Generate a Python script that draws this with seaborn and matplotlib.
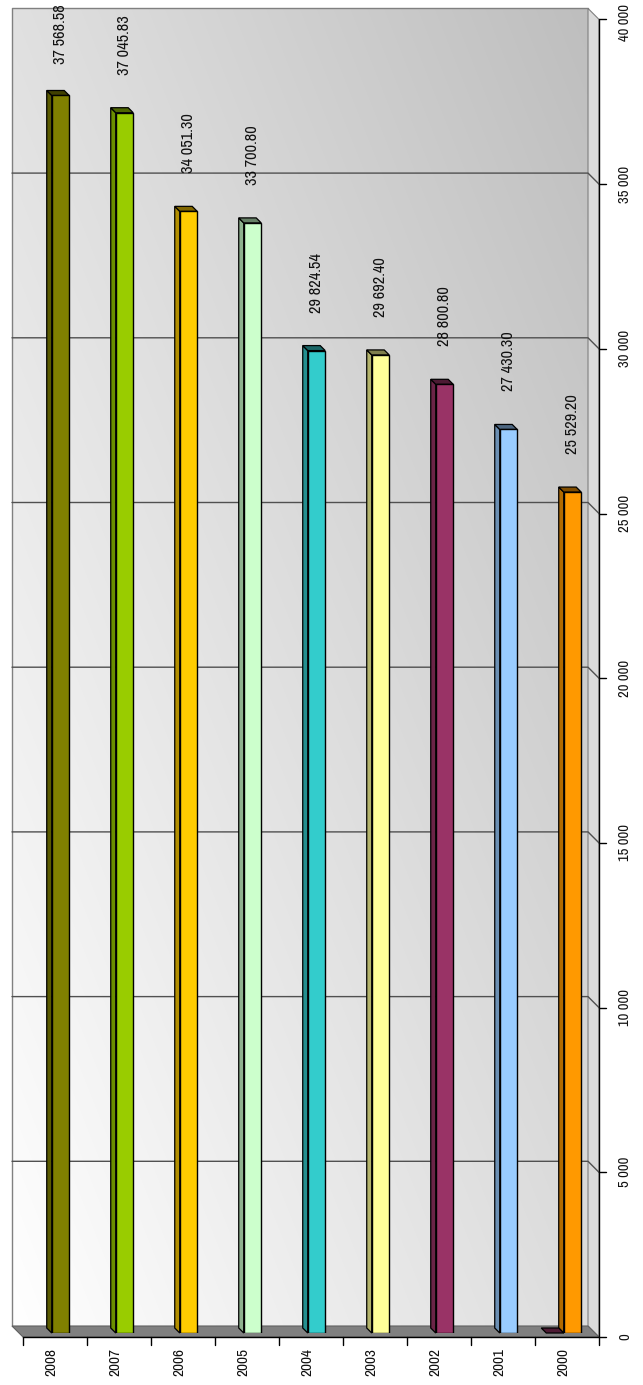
import numpy as np
import pandas as pd
import matplotlib
matplotlib.use('Agg')
import matplotlib.pyplot as plt
import matplotlib.transforms as mtransforms
from matplotlib.patches import Polygon
from matplotlib.colors import to_rgb
import seaborn as sns

# data
years = ['2008', '2007', '2006', '2005', '2004', '2003', '2002', '2001', '2000']
values = [37568.58, 37045.83, 34051.30, 33700.80, 29824.54, 29692.40, 28800.80, 27430.30, 25529.20]
bar_colors = ['#808000', '#99CC00', '#FFCC00', '#CCFFCC', '#33CCCC',
              '#FFFF99', '#993366', '#99CCFF', '#FF9900']
value_ticks = [0, 5000, 10000, 15000, 20000, 25000, 30000, 35000, 40000]
# a second series that only shows as a flat lid at 2000
stub_year = '2000'
stub_value = 0
stub_color = '#993366'

W, H, DPI = 643, 1385, 100
sns.set_style('white')
plt.rcParams['font.family'] = ['Arial Narrow', 'Liberation Sans Narrow', 'Archivo Narrow',
                               'Roboto Condensed', 'PT Sans Narrow', 'Liberation Sans']

fig = plt.figure(figsize=(W / DPI, H / DPI), dpi=DPI)
ax = fig.add_axes([19 / W, 52 / H, 576 / W, 1317.6 / H])

df = pd.DataFrame({'year': years, 'value': values})
sns.barplot(data=df, x='year', y='value', hue='year', palette=bar_colors, saturation=1,
            legend=False, width=0.273, edgecolor='black', linewidth=1.0,
            ax=ax, zorder=4)
bars = sorted([p for p in ax.patches if p.get_height() > 0], key=lambda p: p.get_x())

XLIM = (-0.648, 8.352)
YLIM = (0, 40000)


def fix_limits():
    ax.set_xlim(*XLIM)
    ax.set_ylim(*YLIM)


fix_limits()
ax.set_axis_off()

BACK = np.array([-7, 7])
FRONT = np.array([4, -4])
ident = mtransforms.IdentityTransform()
x0, x1 = XLIM


def disp(x, y, off=(0, 0)):
    return ax.transData.transform((x, y)) + np.asarray(off)


# back wall with soft gradient
back_t = mtransforms.offset_copy(ax.transData, fig=fig, x=BACK[0], y=BACK[1], units='dots')
gx, gy = np.meshgrid(np.linspace(0, 1, 200), np.linspace(0, 1, 400))
shade = (255 - 34 * gx - 31 * gy) / 255
ax.imshow(np.dstack([shade, shade, shade]), extent=[x0, x1, 0, 40000], origin='lower',
          aspect='auto', transform=back_t, zorder=0, clip_on=False, interpolation='bilinear')
fix_limits()

# side wall on the right
side_wall = [disp(x1, 0, BACK), disp(x1, 40000, BACK), disp(x1, 40000, FRONT), disp(x1, 0, FRONT)]
ax.add_patch(Polygon(side_wall, closed=True, fc='#dadada', ec='#808080', lw=0.8,
                     transform=ident, zorder=1, clip_on=False))

# wall borders
pts = np.array([disp(x0, 0, BACK), disp(x0, 40000, BACK), disp(x1, 40000, BACK)])
ax.plot(pts[:, 0], pts[:, 1], color='#808080', lw=1.0, transform=ident, zorder=1, clip_on=False)

# gridlines on the back wall, running on across the side wall
for v in value_ticks[1:-1]:
    pts = np.array([disp(x0, v, BACK), disp(x1, v, BACK), disp(x1, v, FRONT)])
    ax.plot(pts[:, 0], pts[:, 1], color='#505050', lw=1.0, transform=ident, zorder=1.5, clip_on=False)

# floor
floor = [disp(x0, 0, BACK), disp(x1, 0, BACK), disp(x1, 0, FRONT), disp(x0, 0, FRONT)]
ax.add_patch(Polygon(floor, closed=True, fc='#808080', ec='#606060', lw=0.8,
                     transform=ident, zorder=2, clip_on=False))

texts = []
# front axes lines and ticks
pts = np.array([disp(x0, 0, FRONT), disp(x1, 0, FRONT), disp(x1, 40000, FRONT)])
ax.plot(pts[:, 0], pts[:, 1], color='black', lw=1.0, transform=ident, zorder=5, clip_on=False)
for v in value_ticks:
    p = disp(x1, v, FRONT)
    ax.plot([p[0], p[0] + 7], [p[1], p[1]], color='black', lw=1.0, transform=ident, zorder=5, clip_on=False)
    texts.append(ax.text(p[0] + 26, p[1], f'{v:,}'.replace(',', ' '), rotation=90, ha='center',
                         va='center', fontsize=10.5, color='#111111', transform=ident, clip_on=False))
for k in range(len(years) + 1):
    p = disp(x0 + k, 0, FRONT)
    ax.plot([p[0], p[0]], [p[1], p[1] - 8], color='black', lw=1.0, transform=ident, zorder=5, clip_on=False)
for k, yr in enumerate(years):
    p = disp(x0 + k + 0.5, 0)
    ax.text(p[0], p[1] - 15, yr, rotation=90, ha='center', va='top', fontsize=11,
            color='#111111', transform=ident, clip_on=False)


# 3D look of the bars
px_y = 1317.6 / 40000
dx = 5 / 64
dy = 5 / px_y


def darker(c, f):
    return tuple(np.array(to_rgb(c)) * f)


for patch, col, v in zip(bars, bar_colors, values):
    L = patch.get_x()
    R = L + patch.get_width()
    T = patch.get_height()
    patch.set_zorder(4)
    ax.add_patch(Polygon([(L, 0), (L, T), (L - dx, T + dy), (L - dx, dy)], closed=True,
                         fc=darker(col, 0.7), ec='black', lw=0.9, zorder=3, clip_on=False))
    ax.add_patch(Polygon([(L, T), (R, T), (R - dx, T + dy), (L - dx, T + dy)], closed=True,
                         fc=darker(col, 0.5), ec='black', lw=0.9, zorder=3, clip_on=False))
    texts.append(ax.text((L + R) / 2, T + 38 / px_y, f'{v:,.2f}'.replace(',', ' '), rotation=90,
                         ha='center', va='bottom', fontsize=11.8, color='#111111', clip_on=False))

# the flat lid of the empty second series
k = years.index(stub_year)
ref = bars[k]
R = ref.get_x()
L = R - ref.get_width()
ax.add_patch(Polygon([(L, stub_value), (R, stub_value), (R - dx, stub_value + dy), (L - dx, stub_value + dy)],
                     closed=True, fc=darker(stub_color, 0.5), ec='black', lw=0.9, zorder=3, clip_on=False))

fix_limits()

# keep texts inside the top edge
renderer = fig.canvas.get_renderer()
for t in texts:
    bb = t.get_window_extent(renderer)
    over = bb.y1 - (H - 4)
    if over > 0:
        base = t.get_transform()
        t.set_transform(base + mtransforms.Affine2D().translate(0, -over))

fig.savefig('out.png', dpi=DPI, facecolor='white')
